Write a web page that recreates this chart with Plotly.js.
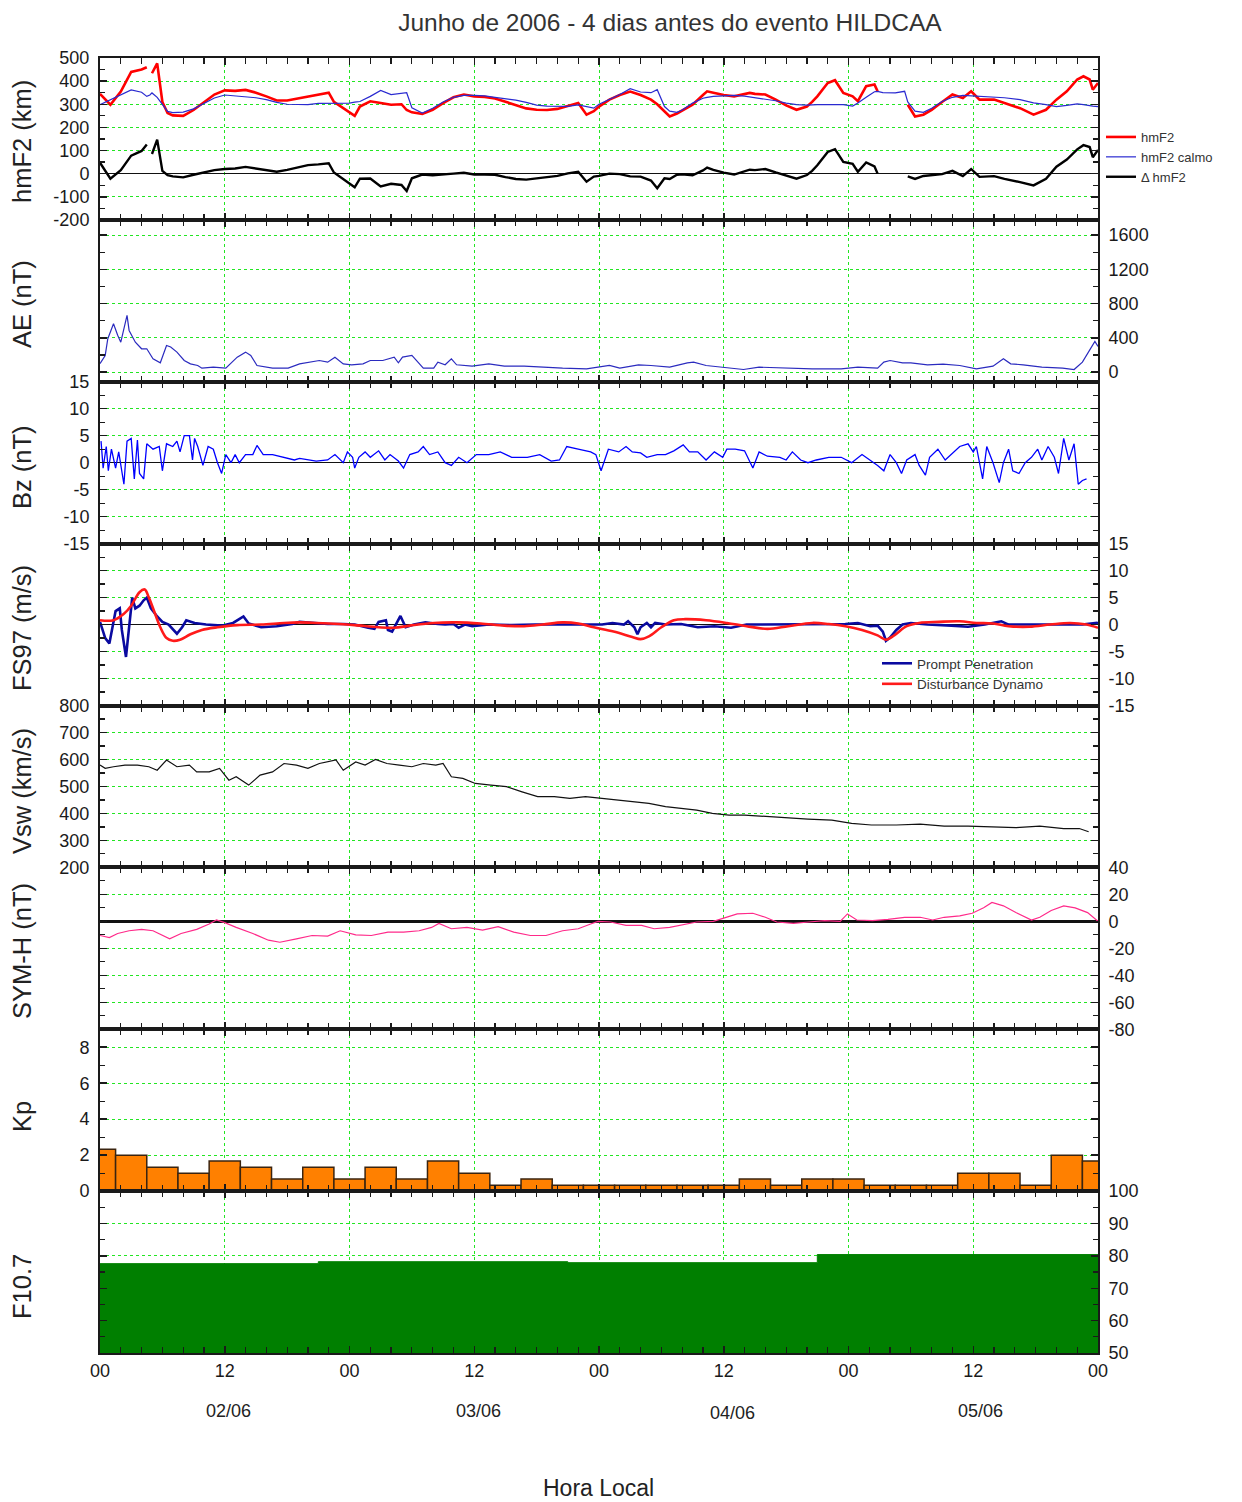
<!DOCTYPE html>
<html><head><meta charset="utf-8">
<script src="https://cdn.plot.ly/plotly-3.0.1.min.js"></script>
<style>html,body{margin:0;padding:0;background:#fff}#chart{width:1242px;height:1502px}</style>
</head><body><div id="chart"></div>
<script>
// ---------- DATA (hours of local time from 01/06 00h) ----------
// hmF2: [hour, hmF2 observed (km), hmF2 quiet "calmo" (km)]
const hmF2Data = [
[0,345,298],[1,298,320],[2,355,340],[3,440,362],[4,450,352],[4.5,460,334],[4.8,null,340],[5,434,349],[5.5,477,330],
[6,310,298],[6.5,262,269],[7,252,264],[8,250,266],[9,275,280],[10,310,305],[11,342,327],[12,360,340],[13,358,336],
[14,362,333],[15,350,328],[16,334,320],[17,316,308],[18,316,300],[19,325,298],[20,335,298],[21,344,304],[22,350,305],
[22.5,310,305],[23,295,305],[24,262,305],[24.5,250,309],[25,290,312],[26,313,334],[27,305,360],[28,298,342],[29,300,349],
[29.5,275,350],[30,265,285],[31,258,262],[32,276,283],[33,305,310],[34,330,330],[35,342,338],[36,334,338],[37,332,336],
[38,325,330],[39,310,325],[40,295,318],[41,282,308],[42,276,296],[43,275,292],[44,280,290],[45,292,291],[46,305,297],
[46.8,255,290],[47.5,270,283],[48,290,300],[49,320,320],[50,340,342],[51,355,367],[52,340,353],[53,320,350],[53.6,300,363],
[54.3,270,290],[54.8,247,270],[55.5,260,265],[56,272,275],[57,298,305],[58,340,326],[58.4,356,330],[59,350,334],[60,340,336],
[61,334,338],[62,345,335],[62.5,349,332],[63,345,330],[64,342,322],[65,320,315],[66,295,305],[67,276,298],[68,290,296],
[68.5,310,298],[69,334,298],[70,392,298],[70.7,404,298],[71.5,349,298],[72.4,334,292],[72.9,313,305],[73.7,378,330],
[74.5,385,354],[74.8,356,356],[75.3,null,350],[76.5,null,349],[77.4,null,356],[77.7,298,310],[78.4,247,270],[79.2,255,265],
[80,276,283],[81,310,312],[82,342,330],[83,327,338],[83.8,356,336],[84.6,320,334],[86,320,331],[87,305,328],[88.5,283,320],
[89.8,255,306],[91,276,298],[92,320,290],[93,356,295],[94,407,302],[94.6,421,298],[95.2,407,292],[95.5,363,292],[96,392,290]
];
// AE (nT): [hour, value]
const aeData = [
[0,100],[0.2,136],[0.5,195],[0.75,390],[1.3,565],[1.7,430],[2.0,350],[2.6,663],[2.8,487],[3.4,350],[4.0,273],[4.5,273],
[5.1,156],[5.8,109],[6.4,312],[6.8,293],[7.4,234],[8.1,136],[8.7,97],[9.4,78],[9.8,47],[10.9,58],[12.1,47],[13.2,175],
[14,234],[14.5,195],[15.1,78],[16.6,47],[18.1,47],[19.2,97],[20.4,117],[21.1,136],[21.9,117],[22.6,175],[23.4,97],
[24.2,86],[25.3,97],[26,136],[27.2,136],[28.3,175],[28.7,109],[29.1,175],[30,195],[30.6,117],[31.1,47],[32.1,47],
[32.5,117],[33.2,86],[33.8,156],[34.3,86],[35.8,70],[37.4,97],[38.9,70],[40.8,70],[42.6,55],[44.5,47],[46.8,39],
[48.3,70],[49,78],[50,47],[51.8,86],[53,78],[54.8,58],[56.5,109],[57.1,117],[58.3,78],[59.9,58],[61.9,31],[63.4,58],
[65.8,47],[68.5,39],[71.3,39],[72.9,58],[74.8,47],[75.4,117],[76,136],[77.2,109],[78,109],[79.6,86],[81.1,94],[82.7,78],
[84.3,39],[85.9,70],[86.9,156],[87.6,97],[88.8,86],[90.6,58],[92.6,47],[93.7,31],[94.5,117],[95.1,234],[95.7,359],[96,300]
];
// IMF Bz (nT)
const bzData = [
[0.1,4],[0.3,-1],[0.6,3],[0.8,-1.5],[1.1,2.5],[1.5,-1],[1.8,2],[2.1,-2],[2.3,-4],[2.6,4],[3.0,4.5],[3.3,-3],[3.6,4.2],
[3.8,-2],[4.2,-3],[4.5,3.5],[5.1,2.5],[5.7,3],[6.0,-1.5],[6.4,3.5],[7.0,3],[7.4,4],[7.7,2],[8.1,5],[8.6,5],[8.9,0.5],
[9.1,4.5],[9.4,3],[9.9,-0.5],[10.4,3],[10.9,2.5],[11.3,0],[11.7,-2],[12.1,1.5],[12.6,0],[13.0,1.5],[13.4,0],[14.0,1.5],
[14.7,1.5],[15.1,3.2],[15.7,1.5],[16.6,1.5],[17.7,1],[18.7,0.5],[19.2,0.8],[20.8,0.3],[21.9,0.5],[22.6,1.5],[23.4,0],
[23.8,2],[24.3,1],[24.5,-1],[24.9,1],[25.5,2],[26.0,1],[26.8,2.2],[27.4,0.5],[27.9,1.5],[28.7,0.3],[29.2,-1],[29.8,1.5],
[30.6,2],[31.1,3],[31.7,1.5],[32.5,2],[33.2,0],[33.8,-0.5],[34.5,1],[35.3,0],[36.2,1.5],[37.4,1.5],[38.5,2],[39.6,1],
[41.1,1],[42.3,1.5],[43.4,0.3],[44.2,0.5],[44.9,3],[46.0,2.5],[47.2,2],[47.7,1.5],[48.2,-1.5],[48.9,2.5],[49.9,2],
[50.6,3],[51.2,2],[52.0,1.8],[52.6,1],[53.6,1.5],[54.4,1.5],[55.2,2.2],[56.1,3.3],[56.7,2],[57.5,2],[58.3,0.5],[59.1,2],
[59.9,1],[60.3,2.5],[61.1,2.5],[62.0,2.2],[62.8,-1],[63.4,2],[64.2,1.2],[65.4,1],[66.0,0.5],[66.6,2],[67.4,0.5],[68.1,0],
[68.9,0.5],[70.1,1],[71.3,1],[72.3,0],[73.3,1.5],[74.1,0.5],[74.8,-0.5],[75.4,-1.5],[76.0,1.5],[76.6,0],[77.1,-2],
[77.6,0.5],[78.4,1.5],[78.8,-0.5],[79.4,-2.3],[79.8,1],[80.6,2.5],[81.3,0.5],[82.1,2],[82.7,3],[83.5,3.5],[84.0,2],
[84.3,3],[84.9,-3],[85.3,3],[85.9,0],[86.5,-3.7],[86.9,0],[87.4,2.5],[87.8,-1.5],[88.4,-2],[89.0,0],[89.6,1],[90.2,2.5],
[90.6,0.5],[91.2,3],[91.8,1],[92.2,-2],[92.7,4.5],[93.2,0.5],[93.7,3.5],[94.1,-4],[94.5,-3.3],[94.9,-3]
];
// FS97 model drifts (m/s): Prompt Penetration and Disturbance Dynamo
const ppData = [
[0,0.5],[0.5,-2.5],[0.9,-3.5],[1.5,2.5],[1.9,3],[2.1,-1],[2.5,-6],[2.8,-1],[3.1,5],[3.4,3],[3.8,3.5],[4.2,4.5],[4.5,5],
[4.9,3],[5.5,1.5],[6.0,0.5],[6.6,0],[7.4,-1.7],[7.9,-0.5],[8.3,0.8],[9.1,0.3],[10.2,0],[11.7,-0.2],[12.8,0.3],[13.8,1.5],
[14.3,0.2],[15.5,-0.5],[17,-0.3],[18.5,0.1],[19.2,0.5],[20.4,0.3],[21.9,0.1],[23.4,0.1],[24.5,0],[25.8,-0.6],[26.4,-0.8],
[26.8,0.5],[27.5,0.8],[27.7,-1],[28.1,-1.3],[28.9,1.6],[29.4,-0.5],[30.2,0],[31.3,0.4],[32.5,0.1],[33.2,0],[34,0.1],
[34.5,-0.6],[35.1,0],[35.8,-0.3],[37.4,0],[39.6,-0.1],[41.9,0],[44.2,0],[46,0],[48.3,0],[49.3,0.3],[50.4,0],[50.8,0.6],
[51.4,-0.5],[51.7,-1.8],[52,-0.5],[52.6,0.3],[53,-0.5],[53.4,0.3],[54.4,0],[55.9,0.1],[57.5,-0.5],[59.1,-0.3],[60.7,-0.6],
[62.2,0],[64.6,0],[67,0],[69.3,0],[71.7,0.1],[72.9,0.3],[74.1,-0.3],[74.8,-0.2],[75.3,-1.3],[75.6,-3.0],[76,-2.4],
[76.6,-1.0],[77.2,0],[78,0.3],[79.6,0],[81.9,-0.2],[83.5,-0.4],[85.1,0],[86.7,0.6],[87.4,0],[89.8,0],[92.2,0],[94.5,0],
[95.9,0.3],[96,0.2]
];
const ddData = [
[0,0.8],[1.3,0.8],[2.3,2],[3.0,3.5],[3.8,6],[4.3,6.5],[4.7,5],[5.3,2],[5.8,-0.5],[6.4,-2.5],[7.0,-3.0],[7.7,-2.8],
[8.7,-1.8],[9.8,-1],[11.3,-0.5],[13.2,-0.1],[15.5,0],[17.7,0.3],[19.2,0.4],[20.8,0.3],[23,0.1],[24.5,-0.1],[26.8,-0.5],
[28.3,-0.6],[29.8,-0.2],[32.1,0.3],[34.3,0.4],[36.6,0.2],[38.9,-0.2],[40.8,-0.3],[42.6,0],[44.5,0.4],[46,0.2],[47.5,-0.5],
[49.4,-1.3],[51.2,-2.3],[52,-2.7],[52.8,-2.2],[54,-0.5],[55.2,0.8],[56.3,1.0],[58.3,0.8],[60.3,0.3],[62.2,-0.3],[64.2,-0.8],
[66.2,-0.3],[68.5,0.3],[70.1,0.1],[71.7,-0.3],[73.3,-1.0],[74.8,-2.0],[75.6,-2.8],[76.4,-2.0],[77.6,-0.3],[78.8,0.3],
[80.7,0.5],[82.7,0.6],[84.3,0.3],[85.9,0.2],[87.4,-0.3],[89.4,-0.4],[91.4,0],[93.3,0.3],[94.9,0],[96,-0.6]
];
// Solar wind speed (km/s)
const vswData = [
[0,579],[0.5,567],[1.3,573],[2.4,579],[3.6,579],[4.7,573],[5.5,560],[6.4,598],[7.4,573],[8.6,579],[9.3,554],[10.5,554],
[11.5,567],[12.4,523],[13.1,536],[14.3,505],[15.4,542],[16.6,554],[17.7,585],[18.9,579],[20,567],[21.1,585],[22.7,598],
[23.4,560],[24.6,591],[25.5,579],[26.5,600],[27.6,585],[28.8,579],[30,573],[31.1,585],[32.3,579],[33,585],[33.8,536],
[34.9,530],[36.1,511],[37.6,505],[39.1,499],[40.6,480],[42.1,462],[43.7,462],[45.2,456],[46.7,462],[48.3,456],[49.8,449],
[51.3,443],[52.8,437],[54.4,425],[55.9,418],[57.4,412],[58.9,400],[60.5,394],[62,394],[63.5,390],[65,388],[66.6,381],
[68.1,379],[70.4,375],[72.3,363],[74.2,357],[76.6,357],[78.9,360],[81.2,353],[83.5,353],[85.8,351],[88.1,347],[90.4,353],
[92.7,344],[94.2,344],[95.1,332]
];
// SYM-H (nT)
const symData = [
[0,-10.5],[0.9,-12],[1.7,-9],[2.8,-7],[4,-6],[5.1,-7],[6.7,-13],[7.8,-9],[9.3,-6],[10.5,-2],[11.2,1],[12,-1],[13.1,-4.5],
[14.7,-9],[16.2,-14],[17.3,-15.5],[18.9,-13],[20.4,-10.5],[21.9,-11],[23.1,-7],[24.6,-10],[26.1,-10.5],[27.7,-8],[29.2,-8],
[30.7,-7],[31.9,-4.5],[32.6,-1.5],[33.8,-5.5],[35.3,-4.5],[36.8,-6.5],[38.3,-4],[39.8,-8],[41.4,-10.5],[42.9,-10.5],
[44.5,-7],[46,-5.5],[47.2,-2],[47.9,0],[49.1,-0.5],[50.6,-3],[52.1,-3],[53.3,-5.5],[54.8,-4.5],[55.9,-3],[57.4,-0.5],
[59,0],[60.2,3],[61.3,5.5],[62.8,6],[64,3],[65.1,-0.5],[66.7,-1.5],[68.2,-0.5],[69.7,0.5],[71.2,0],[71.9,5.5],[72.8,1],
[74.3,0.5],[75.8,1.5],[77.4,3],[78.9,3],[80.1,1],[81.2,3],[82.7,4],[83.9,6],[85,10],[85.8,14],[86.9,11.5],[88.1,6.5],
[89.6,1],[90.4,3],[91.5,8],[92.7,11.5],[93.8,10],[95,6.5],[96,0]
];
// Kp (3-hourly)
const kpHours = [0,3,6,9,12,15,18,21,24,27,30,33,36,39,42,45,48,51,54,57,60,63,66,69,72,75,78,81,84,87,90,93,96];
const kpValues = [2.33,2.0,1.33,1.0,1.67,1.33,0.67,1.33,0.67,1.33,0.67,1.67,1.0,0.33,0.67,0.33,0.33,0.33,0.33,0.33,0.33,
  0.67,0.33,0.67,0.67,0.33,0.33,0.33,1.0,1.0,0.33,2.0,1.67];
// F10.7 daily flux (step)
const f107Hours = [0,21,45,69,96];
const f107Values = [77.6,78.2,77.9,80.4,80.4];

// tick labels
const hourTicks = [0,12,24,36,48,60,72,84,96];
const hourLabels = ['00','12','00','12','00','12','00','12','00'];
const dayLabels = ['02/06','03/06','04/06','05/06'];
const dayLabelHours = [12.4,36.4,60.8,84.7];

// ---------- BUILD ----------
const FONT = '"Liberation Sans", Arial, Helvetica, sans-serif';
const GRID = '#22e622';
const AX = '#1a1a1a';
const col = (arr, i) => arr.map(r => r[i]);

const hmT = col(hmF2Data,0), hmObs = col(hmF2Data,1), hmCalm = col(hmF2Data,2);
const hmDelta = hmF2Data.map(r => (r[1] === null ? null : r[1] - r[2]));

const traces = [
  {x:hmT, y:hmObs, name:'hmF2', type:'scatter', mode:'lines', line:{color:'#ff0000', width:2.6}, xaxis:'x', yaxis:'y', legend:'legend', connectgaps:false},
  {x:hmT, y:hmCalm, name:'hmF2 calmo', type:'scatter', mode:'lines', line:{color:'#2a2ad0', width:1.2}, xaxis:'x', yaxis:'y', legend:'legend'},
  {x:hmT, y:hmDelta, name:'\u0394 hmF2', type:'scatter', mode:'lines', line:{color:'#000000', width:2.4}, xaxis:'x', yaxis:'y', legend:'legend', connectgaps:false},
  {x:col(aeData,0), y:col(aeData,1), type:'scatter', mode:'lines', line:{color:'#2b2bbf', width:1.2}, xaxis:'x2', yaxis:'y2', showlegend:false},
  {x:col(bzData,0), y:col(bzData,1), type:'scatter', mode:'lines', line:{color:'#0000ff', width:1.3}, xaxis:'x3', yaxis:'y3', showlegend:false},
  {x:col(ppData,0), y:col(ppData,1), name:'Prompt Penetration', type:'scatter', mode:'lines', line:{color:'#0a0aa0', width:2.6}, xaxis:'x4', yaxis:'y4', legend:'legend2'},
  {x:col(ddData,0), y:col(ddData,1), name:'Disturbance Dynamo', type:'scatter', mode:'lines', line:{color:'#ff1a1a', width:2.6, shape:'spline'}, xaxis:'x4', yaxis:'y4', legend:'legend2'},
  {x:col(vswData,0), y:col(vswData,1), type:'scatter', mode:'lines', line:{color:'#111111', width:1.2}, xaxis:'x5', yaxis:'y5', showlegend:false},
  {x:col(symData,0), y:col(symData,1), type:'scatter', mode:'lines', line:{color:'#ff2a8a', width:1.2}, xaxis:'x6', yaxis:'y6', showlegend:false},
  {x:kpHours, y:kpValues, type:'bar', width:3, marker:{color:'#ff8000', line:{color:'#3a2410', width:1.5}}, xaxis:'x7', yaxis:'y7', showlegend:false},
  {x:f107Hours, y:f107Values, type:'scatter', mode:'lines', line:{color:'#008000', width:1, shape:'hv'}, fill:'tozeroy', fillcolor:'#007f00', xaxis:'x8', yaxis:'y8', showlegend:false}
];

const panels = [
  {side:'left',  range:[-200,500], ticks:[-200,-100,0,100,200,300,400,500], minor:50,  zero:true,  title:'hmF2 (km)', ty:142},
  {side:'right', range:[-112,1778], ticks:[0,400,800,1200,1600],           minor:200, zero:false, title:'AE (nT)',   ty:304},
  {side:'left',  range:[-15,15], ticks:[-15,-10,-5,0,5,10,15],              minor:2.5, zero:true,  title:'Bz (nT)',   ty:467},
  {side:'right', range:[-15,15], ticks:[-15,-10,-5,0,5,10,15],              minor:2.5, zero:true,  title:'FS97 (m/s)',ty:628},
  {side:'left',  range:[200,800], ticks:[200,300,400,500,600,700,800],      minor:50,  zero:false, title:'Vsw (km/s)',ty:791},
  {side:'right', range:[-80,40], ticks:[-80,-60,-40,-20,0,20,40],           minor:10,  zero:true,  title:'SYM-H (nT)',ty:951},
  {side:'left',  range:[0,9], ticks:[0,2,4,6,8],                            minor:1,   zero:false, title:'Kp',        ty:1117},
  {side:'right', range:[50,100], ticks:[50,60,70,80,90,100],                minor:5,   zero:false, title:'F10.7',     ty:1287}
];

const T = 58, B = 1353, H = B - T;
const py = ypx => (B - ypx) / H;

const layout = {
  width:1242, height:1502,
  margin:{l:100, r:144, t:58, b:149, pad:0},
  paper_bgcolor:'#ffffff', plot_bgcolor:'#ffffff',
  font:{family:FONT, color:'#1a1a1a', size:17},
  title:{text:'Junho de 2006 - 4 dias antes do evento HILDCAA', x:0.5394, xanchor:'center', y:1-22/1502, yanchor:'middle',
         font:{family:FONT, size:24.5, color:'#333333'}},
  bargap:0,
  showlegend:true,
  legend:{x:1.003, xanchor:'left', y:py(122), yanchor:'top', bgcolor:'rgba(0,0,0,0)', borderwidth:0,
          font:{family:FONT, size:13, color:'#333'}, itemwidth:30, tracegroupgap:0},
  legend2:{x:(877-100)/998, xanchor:'left', y:py(648), yanchor:'top', bgcolor:'rgba(0,0,0,0)', borderwidth:0,
          font:{family:FONT, size:13.5, color:'#333'}, itemwidth:30, tracegroupgap:0},
  annotations:[]
};

panels.forEach((p, i) => {
  const s = i === 0 ? '' : String(i+1);
  layout['xaxis'+s] = {
    domain:[0,1], range:[0,96], anchor:'y'+s, matches: i === 0 ? undefined : 'x',
    tickmode:'array', tickvals:hourTicks, ticktext:hourLabels, showticklabels: i === 7,
    ticks:'inside', ticklen:7, tickwidth:1.5, tickcolor:AX, mirror:'allticks',
    showline:true, linecolor:AX, linewidth:2,
    showgrid:true, gridcolor:GRID, griddash:'dot', gridwidth:1, zeroline:false,
    minor:{dtick:2, tick0:0, ticks:'inside', ticklen:6, tickwidth:1.2, tickcolor:AX, showgrid:false},
    tickfont:{family:FONT, size:18, color:'#1a1a1a'}, fixedrange:true
  };
  layout['yaxis'+s] = {
    domain:[1-(i+1)/8, 1-i/8], range:p.range, anchor:'x'+s, side:p.side,
    tickmode:'array', tickvals:p.ticks, ticktext:p.ticks.map(String),
    ticks:'inside', ticklen:7, tickwidth:1.5, tickcolor:AX, mirror:'allticks',
    showline:true, linecolor:AX, linewidth:2, ticklabelstandoff:5,
    showgrid:true, gridcolor:GRID, griddash:'dot', gridwidth:1,
    zeroline:p.zero, zerolinecolor:'#111', zerolinewidth: i === 5 ? 2.5 : 1.6,
    minor:{dtick:p.minor, tick0:0, ticks:'inside', ticklen:5, tickwidth:1.2, tickcolor:AX, showgrid:false},
    tickfont:{family:FONT, size:18, color:'#1a1a1a'}, fixedrange:true
  };
  layout.annotations.push({text:p.title, xref:'paper', yref:'paper', x:(22-100)/998, y:py(p.ty),
    xanchor:'center', yanchor:'middle', textangle:-90, showarrow:false, font:{family:FONT, size:25.5, color:'#222'}});
});

dayLabels.forEach((d, k) => {
  layout.annotations.push({text:d, xref:'x8', yref:'paper', x:dayLabelHours[k], y:py(1411 + (k===2?2:0)),
    xanchor:'center', yanchor:'middle', showarrow:false, font:{family:FONT, size:18, color:'#222'}});
});
layout.annotations.push({text:'Hora Local', xref:'paper', yref:'paper', x:(598-100)/998, y:py(1488),
  xanchor:'center', yanchor:'middle', showarrow:false, font:{family:FONT, size:23, color:'#222'}});

Plotly.newPlot('chart', traces, layout, {displayModeBar:false, staticPlot:true});
</script>
</body></html>
